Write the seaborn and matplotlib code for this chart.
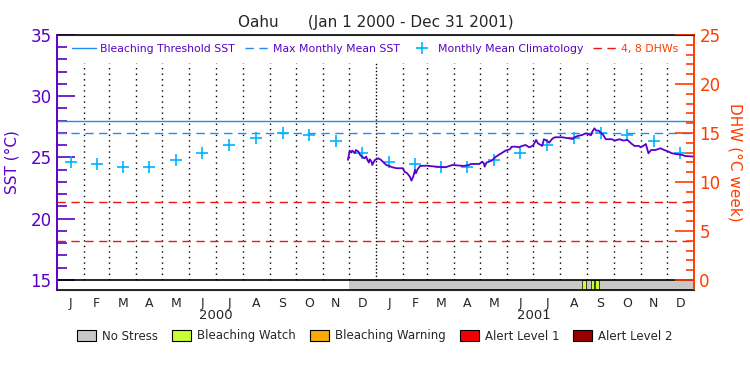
import numpy as np
import pandas as pd
import matplotlib
matplotlib.use('Agg')
import matplotlib.pyplot as plt
import matplotlib.transforms as mtransforms
from matplotlib.patches import Patch
from matplotlib.lines import Line2D
import seaborn as sns

# ── Data ────────────────────────────────────────────────────────────────────
START = pd.Timestamp('2000-01-01')
END = pd.Timestamp('2002-01-01')

# twice-weekly SST (days since 2000-01-01, deg C)
sst_day = [334, 336, 338, 339, 342, 343, 346, 348, 350, 353, 355, 356, 358, 359,
           361, 362, 365, 367, 369, 372, 374, 376, 378, 381, 385, 390, 397, 399,
           402, 405, 407, 409, 411, 412, 414, 417, 424, 435, 446, 454, 466, 472,
           475, 485, 488, 490, 491, 493, 499, 504, 510, 515, 520, 522, 527, 530,
           534, 538, 542, 544, 547, 550, 552, 557, 559, 562, 565, 569, 572, 580,
           588, 592, 594, 598, 603, 607, 610, 613, 614, 617, 619, 622, 624, 627,
           630, 637, 640, 646, 650, 655, 657, 660, 663, 668, 670, 673, 676, 679,
           682, 687, 693, 697, 702, 706, 710, 718, 721, 731]
sst_val = [24.80, 25.56, 25.40, 25.56, 25.34, 25.61, 25.48, 25.20, 25.07, 24.93,
           25.07, 24.85, 24.58, 24.85, 24.66, 24.39, 24.80, 24.85, 24.93, 24.80,
           24.66, 24.52, 24.39, 24.31, 24.20, 24.12, 24.12, 23.84, 23.71, 23.44,
           23.11, 23.44, 23.98, 23.71, 24.04, 24.31, 24.33, 24.25, 24.20, 24.39,
           24.31, 24.36, 24.47, 24.47, 24.66, 24.52, 24.25, 24.58, 24.74, 25.07,
           25.34, 25.56, 25.67, 25.88, 25.88, 25.83, 25.94, 26.02, 25.83, 25.88,
           26.02, 26.43, 26.16, 25.94, 26.49, 26.38, 26.21, 26.56, 26.65, 26.65,
           26.56, 26.51, 26.65, 26.76, 26.84, 26.97, 26.92, 26.81, 27.03, 27.38,
           27.19, 27.19, 27.03, 26.84, 26.49, 26.49, 26.38, 26.49, 26.38, 26.43,
           26.29, 26.10, 25.94, 25.94, 25.83, 25.94, 26.10, 25.34, 25.61, 25.61,
           25.75, 25.61, 25.48, 25.34, 25.29, 25.20, 25.12, 25.07]

months = ['J', 'F', 'M', 'A', 'M', 'J', 'J', 'A', 'S', 'O', 'N', 'D']
years = [2000, 2001]
clim_sst = [24.6, 24.5, 24.2, 24.2, 24.8, 25.4, 26.0, 26.6, 27.0, 26.8, 26.35, 25.4]

bleach_threshold = 28.0
mmm = 27.0
dhw_levels = [4, 8]

# stress periods: (start day, end day, level)
stress_start = [335, 603, 613, 618]
stress_end = [731, 607, 617, 622]
stress_level = ['No Stress', 'Bleaching Watch', 'Bleaching Watch', 'Bleaching Watch']

stress_names = ['No Stress', 'Bleaching Watch', 'Bleaching Warning', 'Alert Level 1', 'Alert Level 2']
stress_colors = ['#C8C8C8', '#C8FF32', '#FAAA0A', '#F00000', '#960000']

# ── Styling ─────────────────────────────────────────────────────────────────
sns.set_style('white')
plt.rcParams['font.family'] = ['DejaVu Sans']
PURPLE = '#5A00C8'
ORANGE = '#FF3C00'
BLUE = '#1E8CF0'
CYAN = '#00B4FF'

SST_LO, SST_HI = 15.0, 35.0
YBOT = 14.18

def to_date(d):
    return START + pd.to_timedelta(np.asarray(d), unit='D')

def dhw_to_sst(d):
    return SST_LO + np.asarray(d) * (SST_HI - SST_LO) / 25.0

fig = plt.figure(figsize=(7.5, 3.75), dpi=100)
ax = fig.add_axes([0.076, 0.2267, 0.849, 0.68])

# month boundaries (dotted)
bounds = pd.date_range('2000-02-01', '2001-12-01', freq='MS')
for b in bounds:
    ls = (0, (1, 1.5)) if b.month == 1 else (0, (1, 3))
    ax.vlines(b, SST_LO, 32.7, colors='black', linestyles=ls, lw=1)

# reference lines
ax.axhline(bleach_threshold, color=BLUE, lw=1)
ax.axhline(mmm, color=BLUE, lw=1, ls=(0, (6, 4)))
for d in dhw_levels:
    ax.axhline(dhw_to_sst(d), color='#F01414', lw=1, ls=(0, (6, 4)))

# climatology crosses
clim_dates = []
clim_vals = []
for y in years:
    for m in range(12):
        ms = pd.Timestamp(year=y, month=m + 1, day=1)
        me = ms + pd.offsets.MonthBegin(1)
        clim_dates.append(ms + (me - ms) / 2)
        clim_vals.append(clim_sst[m])
clim_df = pd.DataFrame({'date': clim_dates, 'sst': clim_vals})
sns.scatterplot(data=clim_df, x='date', y='sst', marker='+', s=80, color=CYAN,
                linewidth=1.2, ax=ax, legend=False, zorder=3)

# SST line
sst_df = pd.DataFrame({'date': to_date(sst_day), 'sst': sst_val})
sns.lineplot(data=sst_df, x='date', y='sst', color=PURPLE, lw=1.3, ax=ax,
             legend=False, zorder=4)

# stress bar
ax.axhline(SST_LO, color='black', lw=1.2, zorder=5)
for s, e, lev in zip(stress_start, stress_end, stress_level):
    c = stress_colors[stress_names.index(lev)]
    ec = 'none' if lev == 'No Stress' else 'black'
    ax.fill_between(to_date([s, e]), YBOT, SST_LO, color=c, edgecolor=ec, lw=0.5, zorder=2)

ax.set_xlim(START, END)
ax.set_ylim(YBOT, SST_HI)

# x ticks: month letters at mid-month
mids = []
labels = []
for y in years:
    for m in range(12):
        ms = pd.Timestamp(year=y, month=m + 1, day=1)
        me = ms + pd.offsets.MonthBegin(1)
        mids.append(ms + (me - ms) / 2)
        labels.append(months[m])
ax.set_xticks(mids)
ax.set_xticklabels(labels, fontsize=9)
ax.tick_params(axis='x', length=0, pad=5)
ax.set_xlabel('')
trans = mtransforms.blended_transform_factory(ax.transData, ax.transAxes)
for y in years:
    mid = pd.Timestamp(year=y, month=7, day=1)
    ax.text(mid, -0.10, str(y), transform=trans, ha='center', va='center', fontsize=9.5)

# left axis
ax.set_yticks([15, 20, 25, 30, 35])
ax.set_yticks(np.arange(15, 36, 1), minor=True)
ax.tick_params(axis='y', which='major', direction='in', length=13, width=1.2,
               colors=PURPLE, labelsize=12, pad=4)
ax.tick_params(axis='y', which='minor', direction='in', length=7, width=1.2, colors=PURPLE, left=True)
ax.set_ylabel('SST (°C)', color=PURPLE, fontsize=11, labelpad=8)
ax.spines['left'].set_color(PURPLE)
ax.spines['left'].set_linewidth(1.2)
ax.spines['right'].set_color(ORANGE)
ax.spines['right'].set_linewidth(1.2)
for sp in ['top', 'bottom']:
    ax.spines[sp].set_color('black')
    ax.spines[sp].set_linewidth(1.2)

# right DHW axis
ax2 = ax.twinx()
ax2.set_ylim((YBOT - SST_LO) * 1.25, (SST_HI - SST_LO) * 1.25)
ax2.set_yticks([0, 5, 10, 15, 20, 25])
ax2.set_yticks(np.arange(0, 26, 1), minor=True)
ax2.tick_params(axis='y', which='major', direction='in', length=14, width=1.2,
                colors=ORANGE, labelsize=12, pad=4)
ax2.tick_params(axis='y', which='minor', direction='in', length=6, width=1.2, colors=ORANGE, right=True)
ax2.set_ylabel('DHW (°C week)', color=ORANGE, fontsize=11, rotation=270, labelpad=16)
ax2.spines['right'].set_color(ORANGE)
ax2.spines['right'].set_linewidth(1.2)
ax2.spines['left'].set_color(PURPLE)
ax2.spines['left'].set_linewidth(1.2)
ax2.grid(False)

ax.set_title('Oahu      (Jan 1 2000 - Dec 31 2001)', fontsize=11, pad=6)

# top legend
top_handles = [
    Line2D([], [], color=BLUE, lw=1),
    Line2D([], [], color=BLUE, lw=1, ls=(0, (6, 4))),
    Line2D([], [], color=CYAN, marker='+', ls='none', markersize=9, mew=1.2),
    Line2D([], [], color='#F01414', lw=1, ls=(0, (6, 4))),
]
top_labels = ['Bleaching Threshold SST', 'Max Monthly Mean SST',
              'Monthly Mean Climatology', '4, 8 DHWs']
leg = ax.legend(top_handles, top_labels, loc='upper center', bbox_to_anchor=(0.5, 1.0),
                ncol=4, frameon=False, fontsize=7.8, handlelength=2.2, handletextpad=0.4,
                columnspacing=0.9, borderaxespad=0.4)
for t, c in zip(leg.get_texts(), [PURPLE, PURPLE, PURPLE, ORANGE]):
    t.set_color(c)

# bottom stress legend
patches = [Patch(facecolor=c, edgecolor='black', lw=0.8) for c in stress_colors]
fig.legend(patches, stress_names, loc='center', bbox_to_anchor=(0.5, 0.104), ncol=5,
           frameon=False, fontsize=8.5, handlelength=1.6, handleheight=1.0,
           handletextpad=0.5, columnspacing=1.2)

fig.savefig('out.png', dpi=100)
plt.close(fig)
